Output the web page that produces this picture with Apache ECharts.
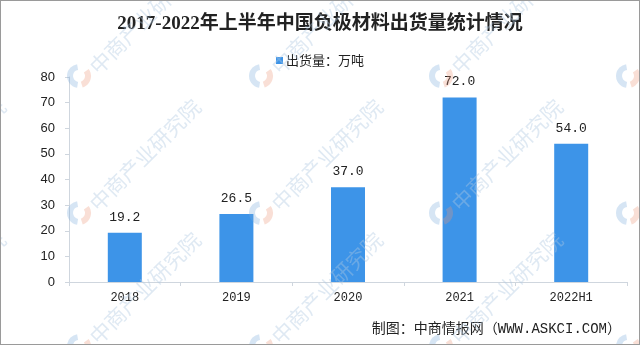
<!DOCTYPE html>
<html>
<head>
<meta charset="utf-8">
<script src="https://cdn.jsdelivr.net/npm/echarts@6/dist/echarts.min.js"></script>
<style>
  html, body { margin: 0; padding: 0; background: #fff; }
  #chart { width: 640px; height: 345px; box-sizing: border-box; border: 1px solid #9a9a9a; }
</style>
</head>
<body>
<div id="chart"></div>
<script>
// Anode material shipments, unit: 10k tonnes
const categories = ['2018', '2019', '2020', '2021', '2022H1'];
const shipments = [19.2, 26.5, 37.0, 72.0, 54.0];
const titleText = '2017-2022年上半年中国负极材料出货量统计情况';
const seriesName = '出货量：万吨';
const sourceText = '制图：中商情报网（WWW.ASKCI.COM）';
const watermarkText = '中商产业研究院';

const chart = echarts.init(document.getElementById('chart'), null, { renderer: 'canvas' });

// tiled brand watermark: small logo + slanted name
const wmCols = [-117, 78, 260, 440, 627];
const wmRows = [75, 212, 345];
const wmElements = [];
wmCols.forEach(cx => {
  wmRows.forEach(cy => {
    wmElements.push({
      type: 'arc', silent: true, z: 100,
      shape: { cx: cx, cy: cy, r: 9, startAngle: Math.PI * 0.55, endAngle: Math.PI * 1.45 },
      style: { stroke: 'rgba(120,170,220,0.3)', lineWidth: 6, fill: null }
    });
    wmElements.push({
      type: 'arc', silent: true, z: 100,
      shape: { cx: cx, cy: cy, r: 9, startAngle: -Math.PI * 0.2, endAngle: Math.PI * 0.4 },
      style: { stroke: 'rgba(235,150,120,0.3)', lineWidth: 6, fill: null }
    });
    wmElements.push({
      type: 'text', silent: true, z: 100,
      x: cx + 14, y: cy - 6, rotation: Math.PI / 4,
      style: {
        text: watermarkText,
        fill: 'rgba(175,200,225,0.4)',
        font: '21px "Noto Sans CJK SC"',
        verticalAlign: 'middle'
      }
    });
  });
});

const option = {
  backgroundColor: '#ffffff',
  animation: false,
  title: {
    text: titleText,
    left: 'center',
    top: 9,
    textStyle: {
      fontFamily: '"Liberation Serif", "Noto Sans CJK SC"',
      fontSize: 19,
      fontWeight: 'bold',
      color: '#222'
    }
  },
  legend: {
    top: 48,
    left: 'center',
    itemWidth: 7,
    itemHeight: 7,
    icon: 'rect',
    itemGap: 4,
    textStyle: { fontFamily: '"Noto Sans CJK SC"', fontSize: 13, color: '#222', padding: [0, 0, 0, -2] },
    data: [seriesName]
  },
  grid: { left: 68, right: 12, top: 76, bottom: 62, containLabel: false },
  xAxis: {
    type: 'category',
    data: categories,
    axisLine: { show: true, lineStyle: { color: '#cfd6de', width: 1 } },
    axisTick: { show: true, alignWithLabel: false, length: 4, lineStyle: { color: '#cfd6de' } },
    axisLabel: {
      margin: 10,
      fontFamily: '"Liberation Mono", monospace',
      fontSize: 12,
      color: '#222'
    }
  },
  yAxis: {
    type: 'value',
    min: 0,
    max: 80,
    interval: 10,
    splitLine: { show: false },
    axisLine: { show: true, lineStyle: { color: '#cfd6de', width: 1 } },
    axisTick: { show: true, length: 4, lineStyle: { color: '#cfd6de' } },
    axisLabel: {
      margin: 14,
      fontFamily: '"Liberation Sans", Arial',
      fontSize: 13,
      color: '#222'
    }
  },
  series: [{
    name: seriesName,
    type: 'bar',
    data: shipments,
    barWidth: 34,
    itemStyle: { color: '#3d94e8' },
    label: {
      show: true,
      position: 'top',
      distance: 9,
      formatter: p => p.value.toFixed(1),
      fontFamily: '"Liberation Mono", monospace',
      fontSize: 13,
      color: '#222'
    }
  }],
  graphic: [
    {
      type: 'text',
      right: 18,
      bottom: 8,
      silent: true,
      style: {
        text: sourceText,
        font: '14px "Liberation Mono", "Noto Sans CJK SC"',
        fill: '#222'
      }
    },
    ...wmElements
  ]
};

chart.setOption(option);
</script>
</body>
</html>
